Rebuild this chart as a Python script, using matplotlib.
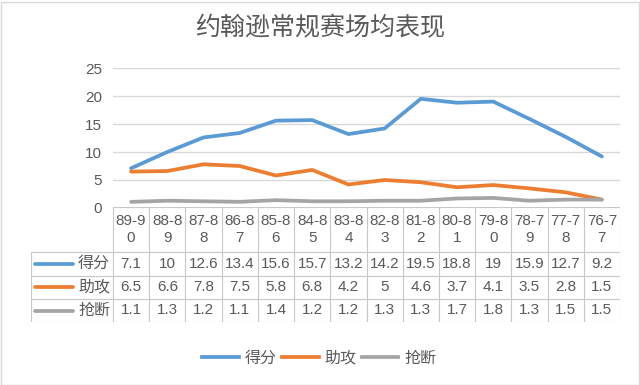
import matplotlib.pyplot as plt
from matplotlib.lines import Line2D
from matplotlib.patches import Rectangle

plt.rcParams['font.family'] = ['Liberation Sans', 'Noto Sans CJK SC']

# data
seasons = ['89-90', '88-89', '87-88', '86-87', '85-86', '84-85', '83-84',
           '82-83', '81-82', '80-81', '79-80', '78-79', '77-78', '76-77']
points = [7.1, 10, 12.6, 13.4, 15.6, 15.7, 13.2, 14.2, 19.5, 18.8, 19, 15.9, 12.7, 9.2]
assists = [6.5, 6.6, 7.8, 7.5, 5.8, 6.8, 4.2, 5, 4.6, 3.7, 4.1, 3.5, 2.8, 1.5]
steals = [1.1, 1.3, 1.2, 1.1, 1.4, 1.2, 1.2, 1.3, 1.3, 1.7, 1.8, 1.3, 1.5, 1.5]
series_names = ['得分', '助攻', '抢断']
colors = ['#5B9BD5', '#ED7D31', '#A5A5A5']
yticks = [0, 5, 10, 15, 20, 25]

W, H = 640, 385
txt = '#595959'
grid_c = '#d9d9d9'

fig = plt.figure(figsize=(6.4, 3.85), dpi=100)
fig.patches.append(Rectangle((0.5 / W, 0.5 / H), 1 - 2 / W, 1 - 2.5 / H, transform=fig.transFigure,
                             fill=False, ec=grid_c, lw=1))

fig.text(0.5, 1 - 28 / H, '约翰逊常规赛场均表现', ha='center', va='center', fontsize=18, color=txt)

# main plot area
x0, x1 = 113, 620
ax = fig.add_axes([x0 / W, 1 - 208 / H, (x1 - x0) / W, (208 - 68) / H])
n = len(seasons)
xs = list(range(n))
for vals, c in zip([points, assists, steals], colors):
    ax.plot(xs, vals, color=c, lw=2.7, solid_capstyle='round', clip_on=False, zorder=3)
ax.set_xlim(-0.5, n - 0.5)
ax.set_ylim(0, 25)
ax.set_yticks(yticks)
ax.set_xticks([])
ax.yaxis.grid(True, color=grid_c, lw=1)
ax.set_axisbelow(True)
for s in ax.spines.values():
    s.set_visible(False)
ax.tick_params(axis='y', length=0, pad=8, labelsize=11, labelcolor=txt)

# data table
w = (x1 - x0) / n
lab_w = x0 - 31
xl = -0.5 - lab_w / w
tax = fig.add_axes([31 / W, 1 - 322 / H, (x1 - 31) / W, (322 - 207) / H])
tax.set_xlim(xl, n - 0.5)
tax.set_ylim(115, 0)
tax.axis('off')
rows = [0, 45, 68.5, 92, 115]
lc = '#c8c8c8'
# horizontal lines
tax.plot([-0.5, n - 0.5], [0, 0], color=lc, lw=0.8)
for r in rows[1:]:
    tax.plot([xl, n - 0.5], [r, r], color=lc, lw=0.8)
# vertical lines
for i in range(n + 1):
    tax.plot([i - 0.5, i - 0.5], [0, 115], color=lc, lw=0.8)
tax.plot([xl, xl], [45, 115], color=lc, lw=0.8)

for i, s in enumerate(seasons):
    tax.text(i, 22.5, s[:4] + '\n' + s[4:], ha='center', va='center', fontsize=11,
             color=txt, linespacing=1.3)
for k, (name, vals, c) in enumerate(zip(series_names, [points, assists, steals], colors)):
    ym = (rows[k + 1] + rows[k + 2]) / 2
    tax.plot([xl + 4 / w, xl + 42 / w], [ym, ym], color=c, lw=2.7, solid_capstyle='round')
    tax.text(-0.5 - 3 / w, ym, name, ha='right', va='center', fontsize=11.5, color=txt)
    for i, v in enumerate(vals):
        tax.text(i, ym, f'{v:g}', ha='center', va='center', fontsize=11, color=txt)

# legend
handles = [Line2D([], [], color=c, lw=2.7) for c in colors]
fig.legend(handles, series_names, loc='center', bbox_to_anchor=(319 / W, 1 - 358 / H), ncol=3,
           frameon=False, fontsize=11.5, labelcolor=txt, handlelength=2.3, handletextpad=0.35,
           columnspacing=0.35)

fig.savefig('out.png', dpi=100)
